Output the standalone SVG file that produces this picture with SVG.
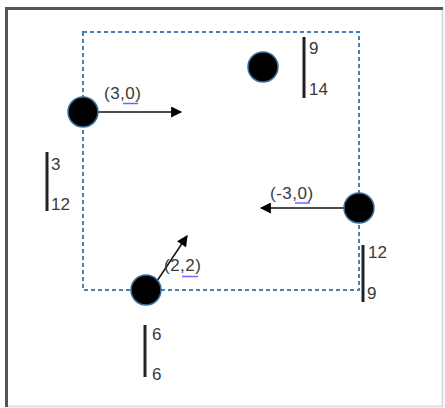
<svg xmlns="http://www.w3.org/2000/svg" width="445" height="408" viewBox="0 0 445 408">
<defs>
<style>
.lbl{font-family:"Liberation Sans",Arial,sans-serif;font-size:17px;fill:#3a3a3a}
.co{letter-spacing:0.5px}
.node{fill:#000;stroke:#3a6e9c;stroke-width:1.5}
.bar{stroke:#222;stroke-width:3}
.arr{stroke:#111;stroke-width:1.5;fill:none}
.sq{stroke:#6a6aff;stroke-width:1.5}
</style>
<marker id="ah" viewBox="0 0 10 10" refX="9" refY="5" markerWidth="12" markerHeight="11" markerUnits="userSpaceOnUse" orient="auto">
<path d="M0,0 L10,5 L0,10 z" fill="#000"/>
</marker>
</defs>
<rect x="0" y="0" width="445" height="408" fill="#fff"/>
<g id="frame">
<line x1="442.5" y1="8" x2="442.5" y2="407" stroke="#ddd" stroke-width="2"/>
<line x1="6" y1="406.5" x2="443" y2="406.5" stroke="#ddd" stroke-width="2"/>
<line x1="6.5" y1="8" x2="6.5" y2="407" stroke="#555" stroke-width="3"/>
<line x1="5" y1="8.5" x2="443" y2="8.5" stroke="#555" stroke-width="3"/>
</g>
<g id="boundary">
<rect x="83" y="32" width="276" height="258" fill="none" stroke="#4a7fb5" stroke-width="2" stroke-dasharray="4,3"/>
</g>
<g id="connectors">
<line class="arr" x1="98" y1="112" x2="181" y2="112" marker-end="url(#ah)"/>
<line class="arr" x1="344" y1="208" x2="261" y2="208" marker-end="url(#ah)"/>
<line class="arr" x1="157" y1="281" x2="187" y2="236" marker-end="url(#ah)"/>
</g>
<g id="nodeA">
<circle class="node" cx="83" cy="112" r="15"/>
<text class="lbl co" x="104" y="99">(3,0)</text>
<line class="sq" x1="123" y1="103.5" x2="138" y2="103.5"/>
</g>
<g id="nodeB">
<circle class="node" cx="263" cy="67" r="15"/>
</g>
<g id="nodeC">
<circle class="node" cx="359" cy="208" r="15"/>
<text class="lbl co" x="270" y="199">(-3,0)</text>
<line class="sq" x1="295" y1="203" x2="310" y2="203"/>
</g>
<g id="nodeD">
<circle class="node" cx="146" cy="290" r="15"/>
<text class="lbl co" x="164" y="271">(2,2)</text>
<line class="sq" x1="182" y1="276.5" x2="198" y2="276.5"/>
</g>
<g id="barB">
<line class="bar" x1="304" y1="37" x2="304" y2="98"/>
<text class="lbl" x="309" y="54">9</text>
<text class="lbl" x="309" y="95">14</text>
</g>
<g id="barA">
<line class="bar" x1="47" y1="152" x2="47" y2="211"/>
<text class="lbl" x="51" y="170">3</text>
<text class="lbl" x="51" y="210">12</text>
</g>
<g id="barC">
<line class="bar" x1="363" y1="245" x2="363" y2="302"/>
<text class="lbl" x="368" y="258">12</text>
<text class="lbl" x="367" y="299">9</text>
</g>
<g id="barD">
<line class="bar" x1="145" y1="325" x2="145" y2="377"/>
<text class="lbl" x="152" y="340">6</text>
<text class="lbl" x="152" y="380">6</text>
</g>
</svg>
